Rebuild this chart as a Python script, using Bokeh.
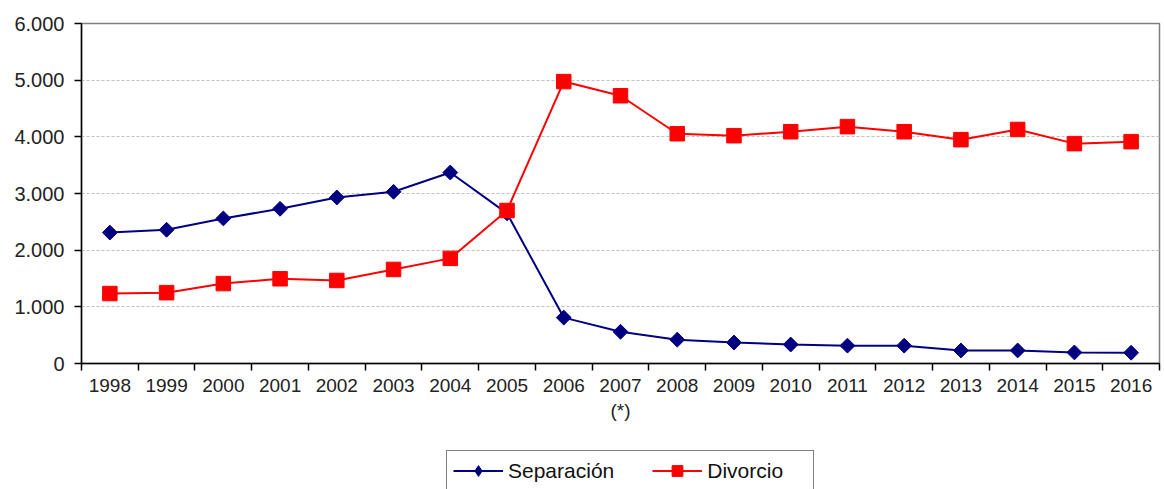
import math
from bokeh.plotting import figure
from bokeh.layouts import column
from bokeh.models import FixedTicker, Legend, LegendItem, Range1d
from bokeh.embed import file_html
from bokeh.resources import INLINE

years = [1998, 1999, 2000, 2001, 2002, 2003, 2004, 2005, 2006, 2007,
         2008, 2009, 2010, 2011, 2012, 2013, 2014, 2015, 2016]
separacion = [2310, 2360, 2560, 2730, 2930, 3030, 3370, 2650, 810, 560,
              420, 370, 335, 315, 315, 230, 230, 195, 190]
divorcio = [1235, 1250, 1410, 1495, 1465, 1660, 1855, 2700, 4975, 4725,
            4055, 4020, 4090, 4180, 4090, 3950, 4130, 3880, 3915]
y_ticks = [0, 1000, 2000, 3000, 4000, 5000, 6000]
y_labels = ["0", "1.000", "2.000", "3.000", "4.000", "5.000", "6.000"]
x_label_overrides = {2007: "2007\n(*)"}
series_names = ["Separación", "Divorcio"]

FONT = "Liberation Sans"
NAVY = "#000080"
RED = "#FF0000"

p = figure(width=1162, height=430, output_backend="svg", toolbar_location=None,
           x_range=Range1d(years[0] - 0.5, years[-1] + 0.5),
           y_range=Range1d(0, 6000),
           min_border_left=81, min_border_right=3, min_border_top=23,
           min_border_bottom=67)
p.background_fill_color = "white"
p.border_fill_color = "white"
p.outline_line_color = "#808080"
p.outline_line_width = 1.5

# x axis: labels at centers (major), ticks at boundaries (minor)
boundaries = [y - 0.5 for y in years] + [years[-1] + 0.5]
p.xaxis.ticker = FixedTicker(ticks=years, minor_ticks=boundaries)
p.xaxis.major_label_overrides = {y: x_label_overrides.get(y, str(y)) for y in years}
p.xaxis.major_tick_out = 0
p.xaxis.major_tick_in = 0
p.xaxis.minor_tick_out = 7
p.xaxis.minor_tick_in = 0
p.xaxis.minor_tick_line_color = "#000000"
p.xaxis.minor_tick_line_width = 1.5
p.xaxis.axis_line_color = "#000000"
p.xaxis.axis_line_width = 1.5
p.xaxis.major_label_text_font = FONT
p.xaxis.major_label_text_font_size = "19px"
p.xaxis.major_label_text_color = "#222222"
p.xaxis.major_label_standoff = 4

p.yaxis.ticker = FixedTicker(ticks=y_ticks)
p.yaxis.major_label_overrides = dict(zip(y_ticks, y_labels))
p.yaxis.major_tick_out = 7
p.yaxis.major_tick_in = 0
p.yaxis.minor_tick_line_color = None
p.yaxis.axis_line_color = "#000000"
p.yaxis.axis_line_width = 1.5
p.yaxis.major_tick_line_width = 1.5
p.yaxis.major_label_text_font = FONT
p.yaxis.major_label_text_font_size = "20px"
p.yaxis.major_label_text_color = "#222222"
p.yaxis.major_label_standoff = 10

p.xgrid.grid_line_color = None
p.ygrid.grid_line_color = "#c0c0c0"
p.ygrid.grid_line_dash = "3 2"
p.ygrid.grid_line_width = 1

p.line(years, separacion, line_color=NAVY, line_width=2)
p.scatter(years, separacion, marker="square", size=10.5, angle=math.pi / 4,
          fill_color=NAVY, line_color=NAVY)
p.line(years, divorcio, line_color=RED, line_width=2)
p.scatter(years, divorcio, marker="square", size=14.5,
          fill_color=RED, line_color=RED)

# legend strip below the chart (its renderers fall outside its ranges, so only
# the legend entries show)
p2 = figure(width=1162, height=59, output_backend="svg", toolbar_location=None,
            x_range=Range1d(0, 1), y_range=Range1d(0, 1),
            x_axis_type=None, y_axis_type=None,
            min_border_left=0, min_border_right=0, min_border_top=0,
            min_border_bottom=0)
p2.outline_line_color = None
p2.xgrid.grid_line_color = None
p2.ygrid.grid_line_color = None
dl1 = p2.line(years, separacion, line_color=NAVY, line_width=2)
dm1 = p2.scatter(years, separacion, marker="diamond", size=15,
                 fill_color=NAVY, line_color=NAVY)
dl2 = p2.line(years, divorcio, line_color=RED, line_width=2)
dm2 = p2.scatter(years, divorcio, marker="square", size=13,
                 fill_color=RED, line_color=RED)

legend = Legend(items=[LegendItem(label=series_names[0], renderers=[dl1, dm1]),
                       LegendItem(label=series_names[1], renderers=[dl2, dm2])],
                orientation="horizontal",
                location=(365, -2),
                label_text_font=FONT, label_text_font_size="21px",
                label_text_color="#111111",
                border_line_color="#000000", border_line_width=1.5,
                glyph_width=50, glyph_height=27, spacing=38, padding=6, margin=0,
                label_width=100, label_standoff=5, background_fill_alpha=1)
p2.add_layout(legend, "center")

open("out.html", "w").write(file_html(column(p, p2, spacing=0), INLINE))
